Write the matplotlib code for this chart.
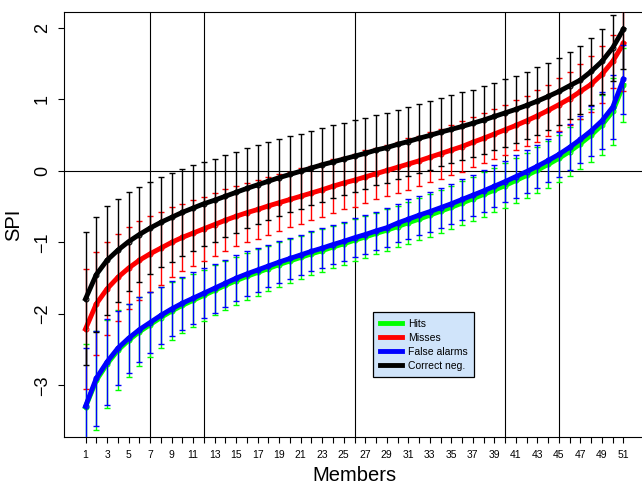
import matplotlib
matplotlib.use("Agg")
import matplotlib.pyplot as plt
from matplotlib.lines import Line2D
import numpy as np

plt.rcParams['font.family'] = ['Liberation Sans', 'DejaVu Sans']

members = np.arange(1, 52)

# mean SPI per member (sorted) and error bar half-widths
hits = [-3.30, -2.93, -2.70, -2.51, -2.37, -2.25, -2.15, -2.05, -1.96, -1.88,
        -1.81, -1.74, -1.67, -1.60, -1.535, -1.475, -1.42, -1.365, -1.31, -1.26,
        -1.21, -1.16, -1.115, -1.065, -1.02, -0.97, -0.925, -0.875, -0.83, -0.78,
        -0.725, -0.675, -0.62, -0.565, -0.51, -0.45, -0.39, -0.33, -0.27, -0.205,
        -0.135, -0.065, 0.01, 0.09, 0.175, 0.27, 0.38, 0.50, 0.64, 0.83, 1.20]
hits_sd = [0.88, 0.69, 0.62, 0.56, 0.51, 0.48, 0.45, 0.42, 0.40, 0.385,
           0.37, 0.36, 0.35, 0.345, 0.335, 0.33, 0.325, 0.32, 0.315, 0.31,
           0.305, 0.30, 0.30, 0.295, 0.295, 0.29, 0.29, 0.29, 0.29, 0.29,
           0.295, 0.295, 0.30, 0.30, 0.30, 0.305, 0.305, 0.31, 0.31, 0.31,
           0.315, 0.32, 0.32, 0.325, 0.33, 0.34, 0.35, 0.37, 0.42, 0.47, 0.52]

misses = [-2.21, -1.86, -1.65, -1.49, -1.36, -1.25, -1.16, -1.08, -1.00, -0.93,
          -0.87, -0.81, -0.75, -0.69, -0.635, -0.585, -0.54, -0.49, -0.445, -0.40,
          -0.355, -0.31, -0.265, -0.215, -0.17, -0.13, -0.085, -0.04, 0.005, 0.05,
          0.095, 0.14, 0.19, 0.24, 0.29, 0.34, 0.40, 0.455, 0.515, 0.575,
          0.635, 0.70, 0.77, 0.845, 0.925, 1.01, 1.11, 1.21, 1.35, 1.53, 1.78]
misses_sd = [0.84, 0.72, 0.65, 0.61, 0.575, 0.55, 0.53, 0.51, 0.49, 0.47,
             0.46, 0.45, 0.44, 0.43, 0.42, 0.41, 0.41, 0.40, 0.40, 0.39,
             0.39, 0.38, 0.38, 0.38, 0.37, 0.37, 0.37, 0.36, 0.36, 0.36,
             0.36, 0.35, 0.35, 0.35, 0.35, 0.35, 0.35, 0.35, 0.35, 0.35,
             0.35, 0.35, 0.36, 0.36, 0.37, 0.37, 0.38, 0.39, 0.40, 0.37, 0.66]

false_alarms = [-3.29, -2.90, -2.67, -2.48, -2.34, -2.22, -2.12, -2.02, -1.93, -1.85,
                -1.78, -1.71, -1.64, -1.57, -1.50, -1.44, -1.385, -1.33, -1.275, -1.225,
                -1.175, -1.125, -1.08, -1.03, -0.985, -0.935, -0.89, -0.84, -0.795, -0.73,
                -0.675, -0.62, -0.57, -0.515, -0.46, -0.40, -0.34, -0.28, -0.215, -0.15,
                -0.08, -0.01, 0.065, 0.145, 0.23, 0.33, 0.44, 0.56, 0.70, 0.89, 1.28]
false_alarms_sd = [0.82, 0.66, 0.60, 0.52, 0.48, 0.45, 0.42, 0.40, 0.385, 0.37,
                   0.36, 0.35, 0.34, 0.33, 0.32, 0.315, 0.31, 0.30, 0.295, 0.29,
                   0.285, 0.28, 0.28, 0.275, 0.275, 0.27, 0.27, 0.27, 0.27, 0.27,
                   0.275, 0.275, 0.28, 0.28, 0.28, 0.285, 0.285, 0.29, 0.29, 0.29,
                   0.295, 0.30, 0.30, 0.305, 0.31, 0.32, 0.33, 0.35, 0.40, 0.45, 0.48]

correct_neg = [-1.79, -1.45, -1.25, -1.11, -0.99, -0.89, -0.80, -0.72, -0.65, -0.58,
               -0.52, -0.46, -0.41, -0.355, -0.30, -0.245, -0.195, -0.145, -0.095, -0.05,
               -0.005, 0.04, 0.085, 0.125, 0.165, 0.205, 0.245, 0.29, 0.325, 0.37,
               0.41, 0.455, 0.495, 0.54, 0.58, 0.62, 0.665, 0.71, 0.76, 0.81,
               0.86, 0.915, 0.975, 1.04, 1.11, 1.19, 1.27, 1.39, 1.53, 1.72, 1.98]
correct_neg_sd = [0.93, 0.80, 0.76, 0.72, 0.69, 0.66, 0.64, 0.63, 0.62, 0.61,
                  0.60, 0.59, 0.58, 0.57, 0.565, 0.56, 0.55, 0.545, 0.54, 0.53,
                  0.525, 0.52, 0.515, 0.51, 0.505, 0.50, 0.495, 0.49, 0.49, 0.485,
                  0.48, 0.48, 0.48, 0.475, 0.475, 0.475, 0.47, 0.47, 0.47, 0.47,
                  0.47, 0.47, 0.47, 0.47, 0.47, 0.47, 0.48, 0.47, 0.45, 0.46, 0.55]

labels = ["Hits", "Misses", "False alarms", "Correct neg."]
colors = ["#00ff00", "#ff0000", "#0000ff", "#000000"]
means = [hits, misses, false_alarms, correct_neg]
sds = [hits_sd, misses_sd, false_alarms_sd, correct_neg_sd]

vlines = [7, 12, 26, 40, 45]

fig = plt.figure(figsize=(6.42, 4.87), dpi=100)
# right edge of the frame falls just outside the picture, as in the original
ax = fig.add_axes([64 / 642, 50 / 487, 581 / 642, 425 / 487])
ax.set_xlim(-1, 53)
ax.set_ylim(-3.72, 2.22)

for v in vlines:
    ax.axvline(v, color="black", lw=0.8, zorder=1)
ax.axhline(0, color="black", lw=0.8, zorder=1)

for i in range(4):
    ax.errorbar(members, means[i], yerr=sds[i], fmt="none", ecolor=colors[i],
                elinewidth=1.0, capsize=2.4, capthick=1.0, zorder=2 + 2 * i)
    ax.plot(members, means[i], color=colors[i], lw=3.5, marker="o", ms=3.5,
            mfc="none", mew=0.8, zorder=3 + 2 * i)

ax.set_xticks(members)
ax.set_xticklabels([str(m) if m % 2 else "" for m in members])
ax.tick_params(axis="x", length=4.5, width=0.8, labelsize=7.5, pad=5)
ax.set_yticks([-3, -2, -1, 0, 1, 2])
ax.set_yticklabels(["\u22123", "\u22122", "\u22121", "0", "1", "2"], rotation=90, va="center")
ax.tick_params(axis="y", length=4.5, width=0.8, labelsize=13, pad=5)
for s in ax.spines.values():
    s.set_linewidth(0.8)

ax.set_xlabel("Members", fontsize=14.5, labelpad=4)
ax.set_ylabel("SPI", fontsize=14.5, labelpad=8)

handles = [Line2D([0], [0], color=c, lw=3.5) for c in colors]
leg = ax.legend(handles, labels, loc="upper left",
                bbox_to_anchor=((373 - 64) / 581, (437 - 312) / 425),
                fontsize=7.5, handlelength=2.1, handletextpad=0.6,
                labelspacing=0.38, borderpad=0.65, fancybox=False,
                framealpha=1, facecolor="#d0e4fa", edgecolor="black",
                borderaxespad=0)
leg.get_frame().set_linewidth(0.9)

fig.savefig("out.png", dpi=100)
